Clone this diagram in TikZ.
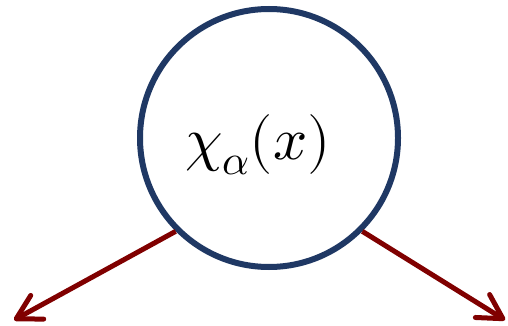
\documentclass[tikz,border=0pt]{standalone}
\usepackage{xcolor}
\usepackage{amsmath}
\usepackage{unicode-math}
\setmathfont{Latin Modern Math}
\usepackage{tikz}
\usetikzlibrary{arrows.meta,positioning,calc}
\definecolor{ringblue}{RGB}{31,56,100}
\definecolor{arrowred}{RGB}{128,0,0}

\begin{document}
\begin{tikzpicture}[x=1pt, y=-1pt,
        field/.style={circle, draw=ringblue, line width=6pt, minimum size=258pt, inner sep=0pt, fill=white},
        label/.style={inner sep=0pt, font=\fontsize{60}{66}\selectfont},
        arrow/.style={-{Straight Barb[length=24pt, width=27pt, line cap=round, line join=round]}, draw=arrowred, line width=5pt}]

        \useasboundingbox (0,0) rectangle (508,326);

        % Nodes
        \node[field] (chi) at (269,138) {};
        \node[label] (chitext) at (258,145) {$\chi_{\alpha}(x)$};

        \coordinate (lend) at (14,320);
        \coordinate (rend) at (505,320);

        % Connections
        \draw[arrow] (chi.225) -- (lend);
        \draw[arrow] (chi.315) -- (rend);

    \end{tikzpicture}
\end{document}
